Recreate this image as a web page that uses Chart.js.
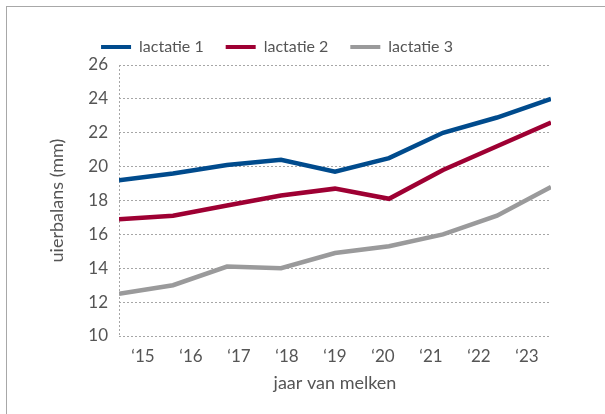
<!DOCTYPE html>
<html>
<head>
<meta charset="utf-8">
<script src="https://cdn.jsdelivr.net/npm/chart.js@4"></script>
<style>
  html, body { margin: 0; padding: 0; background: #fff; overflow: hidden; }
  #frame { position: absolute; left: 6px; top: 6px; width: 700px; height: 500px; border: 1.5px solid #a8a8a8; box-sizing: border-box; }
  #wrap { position: absolute; left: 0; top: 0; width: 605px; height: 414px; }
</style>
</head>
<body>
<div id="frame"></div>
<div id="wrap"><canvas id="chart"></canvas></div>
<script>
// Years on the x axis (labels sit between the tick marks)
const years = ['\u201815', '\u201816', '\u201817', '\u201818', '\u201819', '\u201820', '\u201821', '\u201822', '\u201823'];

// Udder balance (mm) per lactation
const lactatie1 = [19.2, 19.6, 20.1, 20.4, 19.7, 20.5, 22.0, 22.9, 24.0];
const lactatie2 = [16.9, 17.1, 17.7, 18.3, 18.7, 18.1, 19.8, 21.2, 22.6];
const lactatie3 = [12.5, 13.0, 14.1, 14.0, 14.9, 15.3, 16.0, 17.1, 18.8];

// y axis range
const yMin = 10;
const yMax = 26;
const yStep = 2;

const textColor = '#555555';
const gridColor = '#a6a6a6';
const fontFamily = 'Lato, "Open Sans", sans-serif';

// points are spread evenly from the left to the right edge of the plot
function toPoints(values) {
    return values.map((v, i) => ({ x: i, y: v }));
}

function makeDataset(label, values, color) {
    return {
        label: label,
        data: toPoints(values),
        xAxisID: 'xData',
        borderColor: color,
        backgroundColor: color,
        borderWidth: 4.5,
        pointRadius: 0,
        tension: 0,
        fill: false
    };
}

const ctx = document.getElementById('chart').getContext('2d');

new Chart(ctx, {
    type: 'line',
    data: {
        labels: years,
        datasets: [
            makeDataset('lactatie 1', lactatie1, '#004b8d'),
            makeDataset('lactatie 2', lactatie2, '#9e0033'),
            makeDataset('lactatie 3', lactatie3, '#9a9a9b')
        ]
    },
    options: {
        responsive: true,
        maintainAspectRatio: false,
        animation: false,
        layout: {
            padding: { left: 3, right: 54, top: 17, bottom: 16 }
        },
        plugins: {
            tooltip: { enabled: false },
            legend: {
                position: 'top',
                align: 'center',
                labels: {
                    boxWidth: 30,
                    boxHeight: 4,
                    padding: 22,
                    color: textColor,
                    font: { family: fontFamily, size: 16 },
                    generateLabels: function(chart) {
                        const items = Chart.defaults.plugins.legend.labels.generateLabels(chart);
                        return items.map(item => ({ ...item, fillStyle: item.strokeStyle, lineWidth: 0 }));
                    }
                }
            }
        },
        scales: {
            x: {
                type: 'category',
                offset: true,
                border: { display: false, dash: [2, 2] },
                grid: {
                    offset: true,
                    drawTicks: false,
                    color: c => c.index === 0 ? gridColor : 'transparent'
                },
                ticks: {
                    color: textColor,
                    padding: 10,
                    maxRotation: 0,
                    font: { family: fontFamily, size: 17 }
                },
                title: {
                    display: true,
                    text: 'jaar van melken',
                    color: textColor,
                    font: { family: fontFamily, size: 18 }
                },
                afterFit: function(scale) {
                    scale.height = 62;
                }
            },
            xData: {
                type: 'linear',
                display: false,
                min: 0,
                max: years.length - 1
            },
            y: {
                min: yMin,
                max: yMax,
                border: { display: false, dash: [2, 2] },
                grid: {
                    color: gridColor,
                    drawTicks: false
                },
                ticks: {
                    stepSize: yStep,
                    color: textColor,
                    padding: 11,
                    font: { family: fontFamily, size: 17 }
                },
                title: {
                    display: true,
                    text: 'uierbalans (mm)',
                    color: textColor,
                    padding: { top: 43, bottom: 4 },
                    font: { family: fontFamily, size: 18 }
                },
                afterFit: function(scale) {
                    scale.width = 116;
                }
            }
        }
    }
});
</script>
</body>
</html>
